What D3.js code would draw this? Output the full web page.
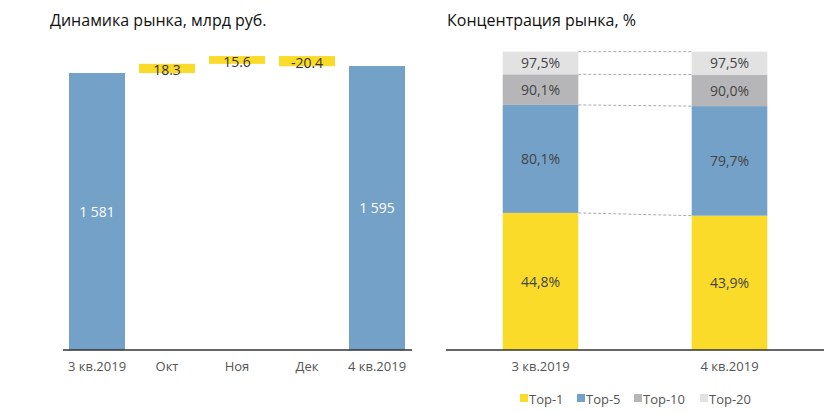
<!DOCTYPE html>
<html><head><meta charset="utf-8">
<script src="https://cdn.jsdelivr.net/npm/d3@7"></script>
<style>
body{margin:0;background:#fff;}
text{font-family:"Open Sans",sans-serif;}
</style></head>
<body>
<svg id="c" width="840" height="412"></svg>
<script>
// Left chart data (waterfall)
const wfCategories = ["3 кв.2019","Окт","Ноя","Дек","4 кв.2019"];
const wfValues = [1581, 18.3, 15.6, -20.4, 1595];
const wfTypes = ["total","delta","delta","delta","total"];
const wfLabels = ["1 581","18.3","15.6","-20.4","1 595"];

// Right chart data (concentration, cumulative %)
const quarters = ["3 кв.2019","4 кв.2019"];
const seriesNames = ["Top-1","Top-5","Top-10","Top-20"];
const top1 = [44.8, 43.9];
const top5 = [80.1, 79.7];
const top10 = [90.1, 90.0];
const top20 = [97.5, 97.5];
const cumLabels = [["44,8%","43,9%"],["80,1%","79,7%"],["90,1%","90,0%"],["97,5%","97,5%"]];

const colors = {blue:"#73a1c8", yellow:"#fadb2a", gray:"#b6b6b8", light:"#e2e2e3"};
const seriesColors = [colors.yellow, colors.blue, colors.gray, colors.light];

const svg = d3.select("#c");

// ---------- Left chart ----------
svg.append("text").attr("x",50).attr("y",26).attr("font-size",16).attr("fill","#111")
  .text("Динамика рынка, млрд руб.");

const xL = d3.scaleBand().domain(wfCategories).range([62,412]).paddingInner(0.2).paddingOuter(0.1);
// broken (piecewise) value scale: totals from zero, increments magnified near the top
const yL = d3.scaleLinear().domain([0,1581,1620]).range([350,73,53.5]);

let running = 0;
const wfData = wfCategories.map((c,i)=>{
  let y0,y1;
  if(wfTypes[i]==="total"){ y0=0; y1=wfValues[i]; running=wfValues[i]; }
  else { y0=running; y1=running+wfValues[i]; running=y1; }
  return {c, y0, y1, type:wfTypes[i], label:wfLabels[i]};
});

const gL = svg.append("g");
gL.selectAll("rect").data(wfData).join("rect")
  .attr("x",d=>xL(d.c)).attr("width",xL.bandwidth())
  .attr("y",d=>yL(Math.max(d.y0,d.y1)))
  .attr("height",d=>Math.abs(yL(d.y0)-yL(d.y1)))
  .attr("fill",d=>d.type==="total"?colors.blue:colors.yellow);

gL.selectAll("text.v").data(wfData).join("text").attr("class","v")
  .attr("x",d=>xL(d.c)+xL.bandwidth()/2)
  .attr("y",d=>(yL(d.y0)+yL(d.y1))/2)
  .attr("dy",d=>d.type==="total"?"0.38em":"0.5em").attr("text-anchor","middle").attr("font-size",14)
  .attr("fill",d=>d.type==="total"?"#fff":"#333")
  .text(d=>d.label);

const axL = gL.append("g").attr("transform","translate(0,350)")
  .call(d3.axisBottom(xL).tickSize(0).tickPadding(12));
axL.select(".domain").attr("stroke","#333").attr("stroke-width",1.5).attr("d","M63,0H412");
axL.selectAll("text").attr("font-size",13).attr("fill","#555").attr("font-family","Open Sans");

// ---------- Right chart ----------
svg.append("text").attr("x",447).attr("y",26).attr("font-size",16).attr("fill","#111")
  .text("Концентрация рынка, %");

const xR = d3.scaleBand().domain(quarters).range([446,824]).paddingInner(0.6).paddingOuter(0.3);
const yR = d3.scaleLinear().domain([0,100]).range([350,44]);

const cum = [top1, top5, top10, top20];
const segs = [];
cum.forEach((arr,s)=>{
  arr.forEach((v,q)=>{
    segs.push({q:quarters[q], s, lo: s===0?0:cum[s-1][q], hi:v, label:cumLabels[s][q]});
  });
});

const gR = svg.append("g");
gR.selectAll("rect").data(segs).join("rect")
  .attr("x",d=>xR(d.q)).attr("width",xR.bandwidth())
  .attr("y",d=>yR(d.hi)).attr("height",d=>yR(d.lo)-yR(d.hi))
  .attr("fill",d=>seriesColors[d.s]);

gR.selectAll("text.v").data(segs).join("text").attr("class","v")
  .attr("x",d=>xR(d.q)+xR.bandwidth()/2)
  .attr("y",d=>(yR(d.lo)+yR(d.hi))/2)
  .attr("dy","0.38em").attr("text-anchor","middle").attr("font-size",14)
  .attr("fill","#444").text(d=>d.label);

// dashed connectors
gR.selectAll("line.conn").data(cum).join("line").attr("class","conn")
  .attr("x1",xR(quarters[0])+xR.bandwidth()).attr("x2",xR(quarters[1]))
  .attr("y1",d=>yR(d[0])).attr("y2",d=>yR(d[1]))
  .attr("stroke","#aaa").attr("stroke-width",1).attr("stroke-dasharray","3,2");

const axR = gR.append("g").attr("transform","translate(0,350)")
  .call(d3.axisBottom(xR).tickSize(0).tickPadding(12));
axR.select(".domain").attr("stroke","#333").attr("stroke-width",1.5).attr("d","M446,0H824");
axR.selectAll("text").attr("font-size",13).attr("fill","#555").attr("font-family","Open Sans");

// legend
const legX = [520,577,634,700];
const leg = svg.append("g").selectAll("g").data(seriesNames).join("g")
  .attr("transform",(d,i)=>`translate(${legX[i]},399)`);
leg.append("rect").attr("x",0).attr("y",-5).attr("width",8).attr("height",8)
  .attr("fill",(d,i)=>seriesColors[i]);
leg.append("text").attr("x",9).attr("y",0).attr("dy","0.35em").attr("font-size",13)
  .attr("fill","#555").text(d=>d);
</script>
</body></html>
